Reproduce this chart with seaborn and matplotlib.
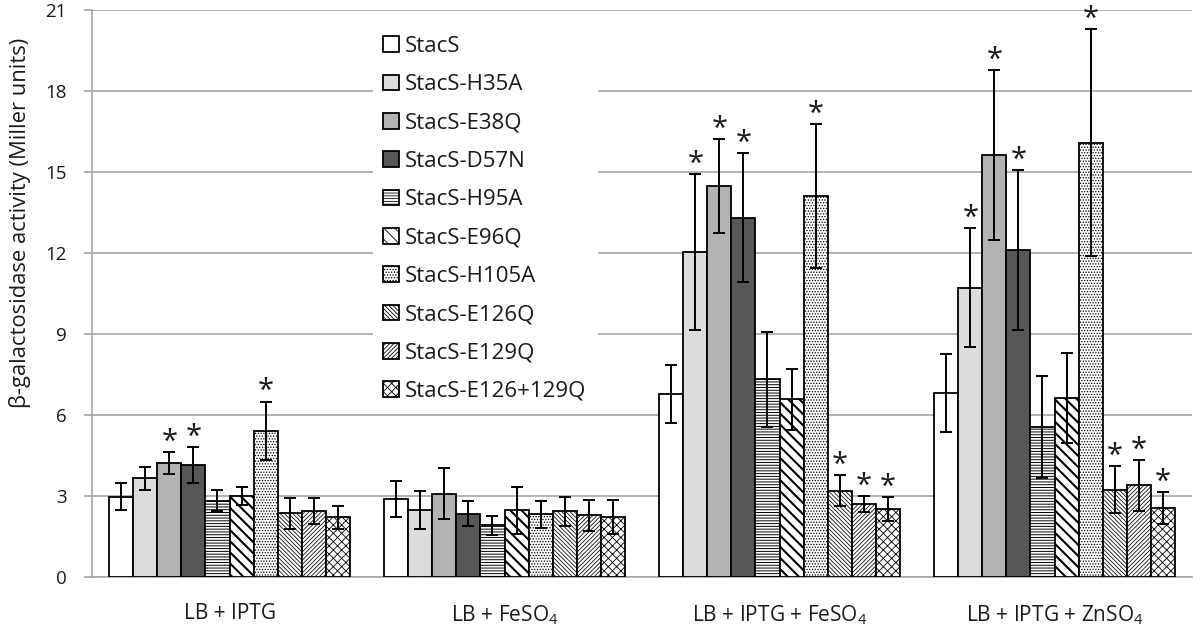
import numpy as np
import pandas as pd
import matplotlib
matplotlib.use("Agg")
import matplotlib.pyplot as plt
import seaborn as sns

conditions = ["LB + IPTG", "LB + FeSO$_4$", "LB + IPTG + FeSO$_4$", "LB + IPTG + ZnSO$_4$"]
strains = ["StacS", "StacS-H35A", "StacS-E38Q", "StacS-D57N", "StacS-H95A",
           "StacS-E96Q", "StacS-H105A", "StacS-E126Q", "StacS-E129Q", "StacS-E126+129Q"]

# mean values per condition (rows) x strain (cols)
lb_iptg      = [2.97, 3.66, 4.23, 4.14, 2.83, 3.00, 5.42, 2.36, 2.44, 2.21]
lb_feso4     = [2.89, 2.47, 3.09, 2.35, 1.91, 2.47, 2.32, 2.43, 2.28, 2.23]
lb_iptg_fe   = [6.77, 12.03, 14.48, 13.31, 7.33, 6.58, 14.11, 3.20, 2.71, 2.53]
lb_iptg_zn   = [6.81, 10.72, 15.63, 12.11, 5.55, 6.63, 16.09, 3.24, 3.39, 2.54]

err_lb_iptg    = [0.50, 0.43, 0.40, 0.66, 0.40, 0.33, 1.08, 0.58, 0.49, 0.42]
err_lb_feso4   = [0.67, 0.71, 0.93, 0.47, 0.36, 0.86, 0.51, 0.54, 0.56, 0.62]
err_lb_iptg_fe = [1.08, 2.90, 1.75, 2.40, 1.76, 1.14, 2.68, 0.58, 0.29, 0.45]
err_lb_iptg_zn = [1.45, 2.19, 3.15, 2.95, 1.89, 1.65, 4.21, 0.88, 0.95, 0.59]

sig_lb_iptg    = [0, 0, 1, 1, 0, 0, 1, 0, 0, 0]
sig_lb_feso4   = [0, 0, 0, 0, 0, 0, 0, 0, 0, 0]
sig_lb_iptg_fe = [0, 1, 1, 1, 0, 0, 1, 1, 1, 1]
sig_lb_iptg_zn = [0, 1, 1, 1, 0, 0, 1, 1, 1, 1]

means = [lb_iptg, lb_feso4, lb_iptg_fe, lb_iptg_zn]
errs = [err_lb_iptg, err_lb_feso4, err_lb_iptg_fe, err_lb_iptg_zn]
sigs = [sig_lb_iptg, sig_lb_feso4, sig_lb_iptg_fe, sig_lb_iptg_zn]

fill_colors = ["#ffffff", "#dcdcdc", "#b3b3b3", "#575757", "#ffffff",
               "#ffffff", "#ffffff", "#ffffff", "#ffffff", "#ffffff"]
hatches = [None, None, None, None, "------", "\\\\\\", "......",
           "\\" * 8, "/" * 8, "xxxx"]
hatch_lw = [None, None, None, None, 0.7, 1.5, 0.6, 0.55, 0.55, 0.6]

rows = []
for ci, c in enumerate(conditions):
    for si, s in enumerate(strains):
        rows.append({"condition": c, "strain": s, "value": means[ci][si]})
df = pd.DataFrame(rows)

sns.set_theme(style="white")
plt.rcParams["font.family"] = ["Open Sans", "DejaVu Sans"]
plt.rcParams["mathtext.fontset"] = "custom"
plt.rcParams["mathtext.rm"] = "Open Sans"
plt.rcParams["mathtext.it"] = "Open Sans:italic"
plt.rcParams["mathtext.default"] = "regular"
plt.rcParams["hatch.linewidth"] = 0.6
plt.rcParams["hatch.color"] = "black"

text_color = "#1a1a1a"
gray = "#a6a6a6"

fig = plt.figure(figsize=(12, 6.26), dpi=100)
ax = fig.add_axes([92 / 1200, 49 / 626, 1100 / 1200, 567 / 626])

sns.barplot(data=df, x="condition", y="value", hue="strain", order=conditions,
            hue_order=strains, palette=fill_colors, errorbar=None, width=0.875,
            edgecolor="black", linewidth=1.3, saturation=1, legend=False, ax=ax,
            zorder=3)

bar_containers = list(ax.containers)

for si, cont in enumerate(bar_containers):
    for p in cont.patches:
        if hatches[si]:
            p.set_hatch(hatches[si])
            try:
                p.set_hatch_linewidth(hatch_lw[si])
            except Exception:
                pass
        p.set_edgecolor("black")
        p.set_zorder(3)

# error bars and significance stars
for si, cont in enumerate(bar_containers):
    for ci, p in enumerate(cont.patches):
        xc = p.get_x() + p.get_width() / 2
        m = means[ci][si]
        e = errs[ci][si]
        ax.errorbar(xc, m, yerr=e, fmt="none", ecolor="black", elinewidth=1.4,
                    capsize=4.2, capthick=1.4, zorder=4)
        if sigs[ci][si]:
            ax.annotate("*", xy=(xc, m + e), xytext=(0, 1.5), textcoords="offset points",
                        ha="center", va="baseline", fontsize=21, color=text_color, zorder=5)

ax.set_ylim(0, 21)
ax.set_yticks(np.arange(0, 22, 3))
ax.set_xlim(-0.5, 3.5)
ax.yaxis.grid(True, color=gray, linewidth=1.2, zorder=0)
ax.set_axisbelow(True)
for side in ["top", "right"]:
    ax.spines[side].set_visible(False)
for side in ["left", "bottom"]:
    ax.spines[side].set_color(gray)
    ax.spines[side].set_linewidth(1.2)

ax.set_xlabel("")
ax.set_ylabel("")
ax.set_xticks(range(len(conditions)))
ax.set_xticklabels(conditions)
ax.set_xticks([-0.5, 0.5, 1.5, 2.5, 3.5], minor=True)
ax.tick_params(axis="x", which="major", length=0, pad=19, labelsize=15, labelcolor=text_color)
ax.tick_params(axis="x", which="minor", length=6, width=1.2, color=gray, direction="out")
ax.tick_params(axis="y", which="major", length=6, width=1.2, color=gray, direction="out",
               pad=12, labelsize=13.5, labelcolor=text_color, left=True)

fig.text(20 / 1200, 1 - 223 / 626, "β-galactosidase activity (Miller units)", rotation=90,
         ha="center", va="center", fontsize=15.8, color=text_color)

handles = [cont.patches[0] for cont in bar_containers]
leg = ax.legend(handles, strains, loc="upper left", bbox_to_anchor=(373 / 1200, 1 - 26 / 626),
                bbox_transform=fig.transFigure, frameon=True, fancybox=False,
                facecolor="white", edgecolor="white", framealpha=1, borderpad=0.45,
                handlelength=0.7, handleheight=0.7, handletextpad=0.3,
                labelspacing=0.78, fontsize=16, borderaxespad=0)
for t in leg.get_texts():
    t.set_color(text_color)
leg.set_zorder(10)

fig.savefig("out.png", dpi=100)
